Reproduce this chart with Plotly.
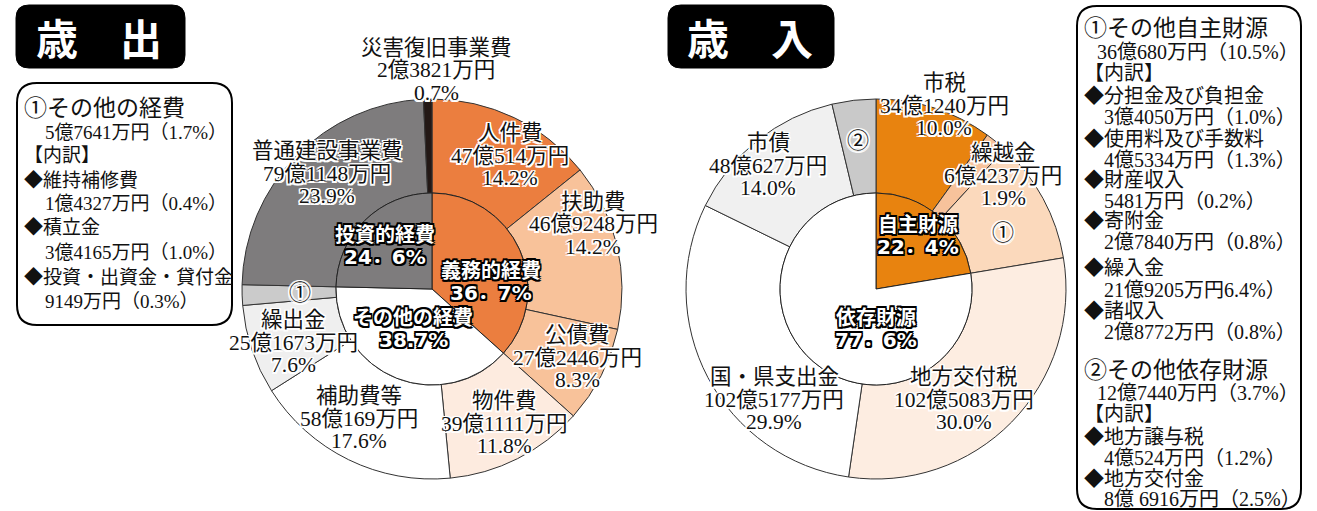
import plotly.graph_objects as go

W, H = 1317, 511

# ---------------- data ----------------
# 歳出 (expenditure) outer ring, amounts in 万円, clockwise from 12 o'clock
exp_labels = ["人件費", "扶助費", "公債費", "物件費", "補助費等", "繰出金", "①", "普通建設事業費", "災害復旧事業費"]
exp_values = [470514, 469248, 272446, 391111, 580169, 251673, 57641, 791148, 23821]
exp_pct = ["14.2%", "14.2%", "8.3%", "11.8%", "17.6%", "7.6%", "1.7%", "23.9%", "0.7%"]
exp_group = ["義務的経費", "義務的経費", "義務的経費", "その他の経費", "その他の経費", "その他の経費", "その他の経費", "投資的経費", "投資的経費"]
exp_inner_labels = ["義務的経費", "その他の経費", "投資的経費"]
exp_inner_pct = ["36．7%", "38.7%", "24．6%"]

# 歳入 (revenue)
rev_labels = ["市税", "繰越金", "①", "地方交付税", "国・県支出金", "市債", "②"]
rev_values = [341240, 64237, 360680, 1025083, 1025177, 480627, 127440]
rev_pct = ["10.0%", "1.9%", "10.5%", "30.0%", "29.9%", "14.0%", "3.7%"]
rev_group = ["自主財源", "自主財源", "自主財源", "依存財源", "依存財源", "依存財源", "依存財源"]
rev_inner_labels = ["自主財源", "依存財源"]
rev_inner_pct = ["22．4%", "77．6%"]

left_box_lines = ["①その他の経費", "5億7641万円（1.7%）", "【内訳】", "◆維持補修費", "1億4327万円（0.4%）",
                  "◆積立金", "3億4165万円（1.0%）", "◆投資・出資金・貸付金", "9149万円（0.3%）"]
right_box_lines = ["①その他自主財源", "36億680万円（10.5%）", "【内訳】",
                   "◆分担金及び負担金", "3億4050万円（1.0%）", "◆使用料及び手数料", "4億5334万円（1.3%）",
                   "◆財産収入", "5481万円（0.2%）", "◆寄附金", "2億7840万円（0.8%）",
                   "◆繰入金", "21億9205万円6.4%）", "◆諸収入", "2億8772万円（0.8%）",
                   "②その他依存財源", "12億7440万円（3.7%）", "【内訳】",
                   "◆地方譲与税", "4億524万円（1.2%）", "◆地方交付金", "8億 6916万円（2.5%）"]

# ---------------- styles ----------------
exp_colors = ["#EB7E3F", "#F8C29A", "#F8C29A", "#FDEBDF", "#FFFFFF", "#EFEFEF", "#CBCBCB", "#7E7C7D", "#231815"]
exp_inner_colors = ["#EB7E3F", "#FFFFFF", "#7E7C7D"]
rev_colors = ["#E8830F", "#F7C29B", "#FBD9BC", "#FDEDE1", "#FFFFFF", "#F0F0F0", "#C9C9C9"]
rev_inner_colors = ["#E8830F", "#FFFFFF"]

SERIF = "Liberation Serif, Noto Sans CJK JP, sans-serif"
GOTHIC = "DejaVu Sans, Noto Sans CJK JP, sans-serif"


def halo(color, d=1.5):
    dirs = [(-d, -d), (d, -d), (-d, d), (d, d), (0, -d), (0, d), (-d, 0), (d, 0)]
    return ", ".join(f"{a}px {b}px 0 {color}" for a, b in dirs)


WHITE_HALO = halo("#fff", 1.5)
BLACK_HALO = halo("#000", 1.6)


def X(x):
    return x / W


def Y(y):
    return 1 - y / H


def fmt_amount(v):
    oku, man = divmod(v, 10000)
    return f"{oku}億{man}万円" if oku else f"{man}万円"


def group_sum(values, groups, names):
    return [sum(v for v, g in zip(values, groups) if g == n) for n in names]


# geometry (pixels)
LEFT_C, RIGHT_C, CY = (432, 876, 289)
R_OUT, R_IN = 190, 96

fig = go.Figure()


def add_donut(cx, values, labels, colors, inner_values, inner_labels, inner_colors):
    fig.add_trace(go.Pie(
        values=values, labels=labels, sort=False, direction="clockwise", rotation=0,
        hole=R_IN / R_OUT, textinfo="none", showlegend=False,
        marker=dict(colors=colors, line=dict(color="#333333", width=1)),
        domain=dict(x=[X(cx - R_OUT), X(cx + R_OUT)], y=[Y(CY + R_OUT), Y(CY - R_OUT)]),
    ))
    fig.add_trace(go.Pie(
        values=inner_values, labels=inner_labels, sort=False, direction="clockwise", rotation=0,
        textinfo="none", showlegend=False,
        marker=dict(colors=inner_colors, line=dict(color="#222222", width=1)),
        domain=dict(x=[X(cx - R_IN), X(cx + R_IN)], y=[Y(CY + R_IN), Y(CY - R_IN)]),
    ))


add_donut(LEFT_C, exp_values, exp_labels, exp_colors,
          group_sum(exp_values, exp_group, exp_inner_labels), exp_inner_labels, exp_inner_colors)
add_donut(RIGHT_C, rev_values, rev_labels, rev_colors,
          group_sum(rev_values, rev_group, rev_inner_labels), rev_inner_labels, rev_inner_colors)

annotations = []
shapes = []


def add_lines(lines, cx, y0, step, size, family=SERIF, color="#111", shadow=WHITE_HALO,
              weight="normal", xanchor="center"):
    for i, t in enumerate(lines):
        annotations.append(dict(
            text=t, x=X(cx), y=Y(y0 + i * step), xref="paper", yref="paper",
            xanchor=xanchor, yanchor="middle", showarrow=False,
            font=dict(family=family, size=size, color=color, shadow=shadow, weight=weight),
        ))


# outer-ring label placements (pixel x centre, first-line y)
exp_label_pos = {
    "人件費": (510, 133), "扶助費": (593, 202), "公債費": (577, 335), "物件費": (504, 401),
    "補助費等": (359, 396), "繰出金": (293, 320), "普通建設事業費": (327, 151),
    "災害復旧事業費": (436, 48), "①": (300, 292),
}
rev_label_pos = {
    "市税": (944, 83), "繰越金": (1003, 153), "地方交付税": (964, 377),
    "国・県支出金": (774, 377), "市債": (768, 143), "①": (1003, 232), "②": (858, 140),
}
STEP = 22.5

for lab, v, p in zip(exp_labels, exp_values, exp_pct):
    cx, y0 = exp_label_pos[lab]
    if lab in ("①", "②"):
        add_lines([lab], cx, y0, STEP, 22)
    else:
        add_lines([lab, fmt_amount(v), p], cx, y0, STEP, 21.5)

for lab, v, p in zip(rev_labels, rev_values, rev_pct):
    cx, y0 = rev_label_pos[lab]
    if lab in ("①", "②"):
        add_lines([lab], cx, y0, STEP, 22)
    else:
        add_lines([lab, fmt_amount(v), p], cx, y0, STEP, 21.5)

# inner labels
exp_inner_pos = {"投資的経費": (385, 235), "義務的経費": (491, 271), "その他の経費": (413, 318)}
rev_inner_pos = {"自主財源": (918, 225), "依存財源": (876, 318)}
for lab, p in zip(exp_inner_labels, exp_inner_pct):
    cx, y0 = exp_inner_pos[lab]
    add_lines([lab, p], cx, y0, 21.5, 20, family=GOTHIC, color="#ffffff", shadow=BLACK_HALO, weight="bold")
for lab, p in zip(rev_inner_labels, rev_inner_pct):
    cx, y0 = rev_inner_pos[lab]
    add_lines([lab, p], cx, y0, 21.5, 20, family=GOTHIC, color="#ffffff", shadow=BLACK_HALO, weight="bold")


def rrect(x0, y0, x1, y1, r, fill, line_color, line_width):
    rx, ry = r / W, r / H
    a0, b0, a1, b1 = X(x0), Y(y0), X(x1), Y(y1)
    path = (f"M {a0+rx},{b0} L {a1-rx},{b0} Q {a1},{b0} {a1},{b0-ry} "
            f"L {a1},{b1+ry} Q {a1},{b1} {a1-rx},{b1} L {a0+rx},{b1} Q {a0},{b1} {a0},{b1+ry} "
            f"L {a0},{b0-ry} Q {a0},{b0} {a0+rx},{b0} Z")
    shapes.append(dict(type="path", path=path, xref="paper", yref="paper",
                       fillcolor=fill, line=dict(color=line_color, width=line_width), layer="below"))


# title tabs
rrect(16, 5, 185, 68, 13, "#000000", "#000000", 1)
rrect(668, 5, 834, 68, 13, "#000000", "#000000", 1)
add_lines(["歳　出"], 99, 37, 0, 42, family="Noto Sans CJK JP", color="#ffffff", shadow="none", weight="bold")
add_lines(["歳　入"], 750, 37, 0, 42, family="Noto Sans CJK JP", color="#ffffff", shadow="none", weight="bold")

# note boxes
rrect(17, 83, 232, 325, 20, "rgba(0,0,0,0)", "#000000", 2)
rrect(1077, 6, 1301, 509, 20, "rgba(0,0,0,0)", "#000000", 2)

left_y = [109, 132, 155, 180, 203, 227, 252, 277, 301]
for t, y in zip(left_box_lines, left_y):
    head = t.startswith("①")
    indent = t[0] not in "①【◆"
    add_lines([t], 43 if indent else 22, y, 0, 23 if head else 19, shadow="none", xanchor="left")

right_y = [28, 52, 73, 96, 117, 139, 160, 180, 201, 221, 242, 268, 290, 311, 332,
           370, 393, 414, 437, 458, 479, 499]
for t, y in zip(right_box_lines, right_y):
    head = t[0] in "①②"
    if head or t[0] in "【◆":
        x = 1082
    elif t.startswith(("36億", "12億")):
        x = 1095
    else:
        x = 1102
    add_lines([t], x, y, 0, 23 if head else 20, shadow="none", xanchor="left")

fig.update_layout(
    width=W, height=H, margin=dict(l=0, r=0, t=0, b=0),
    paper_bgcolor="#ffffff", plot_bgcolor="#ffffff",
    font=dict(family=SERIF, color="#111"),
    annotations=annotations, shapes=shapes, showlegend=False,
)

fig.write_html(
    "out.html",
    config={"displayModeBar": False},
    post_script="document.body.style.margin='0';document.body.style.padding='0';"
                "document.body.style.overflow='hidden';",
)
